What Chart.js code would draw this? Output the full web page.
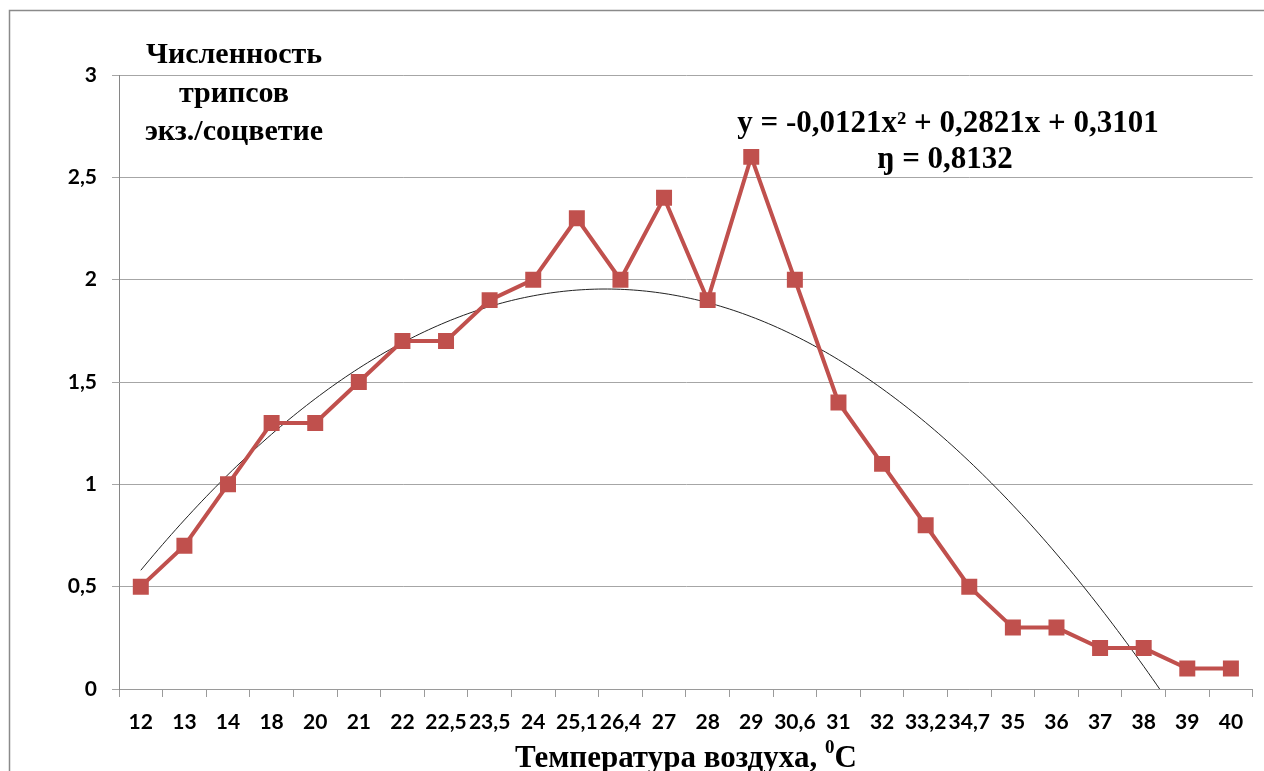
<!DOCTYPE html>
<html>
<head>
<meta charset="utf-8">
<script src="https://cdn.jsdelivr.net/npm/chart.js@4"></script>
<style>
  html, body { margin: 0; padding: 0; background: #fff; }
  #wrap { width: 1264px; height: 771px; position: relative; }
</style>
</head>
<body>
<div id="wrap"><canvas id="c" width="1264" height="771"></canvas></div>
<script>
// Air temperature categories, °C
const temperatures = ['12','13','14','18','20','21','22','22,5','23,5','24','25,1','26,4','27','28','29','30,6','31','32','33,2','34,7','35','36','37','38','39','40'];
// Thrips abundance, specimens per inflorescence
const thripsCount = [0.5,0.7,1.0,1.3,1.3,1.5,1.7,1.7,1.9,2.0,2.3,2.0,2.4,1.9,2.6,2.0,1.4,1.1,0.8,0.5,0.3,0.3,0.2,0.2,0.1,0.1];
// Polynomial trend coefficients: y = a·x² + b·x + c (x = category number)
const trendCoef = [-0.0121, 0.2821, 0.3101];
const yTicks = [0, 0.5, 1, 1.5, 2, 2.5, 3];

const trendPoints = [];
for (let i = 0; i <= 250; i++) {
  const x = 1 + i * 0.1;
  trendPoints.push({ x: x, y: trendCoef[0] * x * x + trendCoef[1] * x + trendCoef[2] });
}

const serif = '"Liberation Serif", "Times New Roman", serif';
const sans = 'Lato, "Open Sans", sans-serif';

const overlay = {
  id: 'overlay',
  beforeDraw(chart) {
    const ctx = chart.ctx;
    ctx.save();
    ctx.fillStyle = '#fff';
    ctx.fillRect(0, 0, chart.width, chart.height);
    ctx.strokeStyle = '#8a8a8a';
    ctx.lineWidth = 1.5;
    ctx.strokeRect(9.5, 10.5, 1264, 800);
    ctx.restore();
  },
  afterDraw(chart) {
    const ctx = chart.ctx;
    const area = chart.chartArea;
    ctx.save();
    ctx.fillStyle = '#000';
    ctx.textAlign = 'center';
    ctx.textBaseline = 'alphabetic';
    ctx.font = 'bold 30px ' + serif;
    ctx.fillText('Численность', 234, 63);
    ctx.fillText('трипсов', 234, 102);
    ctx.fillText('экз./соцветие', 234, 140);
    ctx.font = 'bold 31px ' + serif;
    ctx.fillText('y = -0,0121x² + 0,2821x + 0,3101', 948, 132);
    ctx.fillText('ŋ = 0,8132', 945, 168);

    // axis title with a raised degree digit
    const main = 'Температура воздуха, ';
    const sup = '0';
    const tail = 'C';
    ctx.font = 'bold 31px ' + serif;
    const wMain = ctx.measureText(main).width;
    const wTail = ctx.measureText(tail).width;
    ctx.font = 'bold 19px ' + serif;
    const wSup = ctx.measureText(sup).width;
    const total = wMain + wSup + wTail;
    let x0 = (area.left + area.right) / 2 - total / 2;
    ctx.textAlign = 'left';
    ctx.font = 'bold 31px ' + serif;
    ctx.fillText(main, x0, 767);
    ctx.font = 'bold 19px ' + serif;
    ctx.fillText(sup, x0 + wMain, 753);
    ctx.font = 'bold 31px ' + serif;
    ctx.fillText(tail, x0 + wMain + wSup, 767);
    ctx.restore();
  }
};

new Chart(document.getElementById('c'), {
  data: {
    labels: temperatures,
    datasets: [
      {
        type: 'line',
        data: trendPoints,
        xAxisID: 'xt',
        borderColor: '#222',
        borderWidth: 1,
        pointRadius: 0,
        tension: 0,
        order: 2
      },
      {
        type: 'line',
        data: thripsCount,
        xAxisID: 'x',
        borderColor: '#C0504D',
        borderWidth: 4,
        pointStyle: 'rect',
        pointRadius: 11.3,
        pointBackgroundColor: '#C0504D',
        pointBorderColor: '#C0504D',
        pointBorderWidth: 0,
        tension: 0,
        order: 1
      }
    ]
  },
  options: {
    responsive: false,
    animation: false,
    layout: { padding: { top: 75, right: 3, left: 0, bottom: 0 } },
    plugins: { legend: { display: false }, tooltip: { enabled: false } },
    scales: {
      x: {
        type: 'category',
        offset: true,
        grid: { offset: true, drawOnChartArea: false, drawTicks: true, tickLength: 8, color: '#9a9a9a' },
        border: { color: '#9a9a9a', width: 1 },
        ticks: { color: '#000', font: { family: sans, size: 21, weight: 'bold' }, padding: 13, maxRotation: 0, autoSkip: false },
        afterFit(s) { s.height = 82; }
      },
      xt: {
        type: 'linear',
        display: false,
        min: 0.5,
        max: 26.5
      },
      y: {
        min: 0,
        max: 3,
        afterBuildTicks(s) { s.ticks = yTicks.map(v => ({ value: v })); },
        grid: { color: '#a6a6a6', tickLength: 7, lineWidth: 1 },
        border: { color: '#868686', width: 1 },
        ticks: {
          color: '#000',
          font: { family: sans, size: 21, weight: 'bold' },
          padding: 15,
          callback: v => String(v).replace('.', ',')
        },
        afterFit(s) { s.width = 119; }
      }
    }
  },
  plugins: [overlay]
});
</script>
</body>
</html>
